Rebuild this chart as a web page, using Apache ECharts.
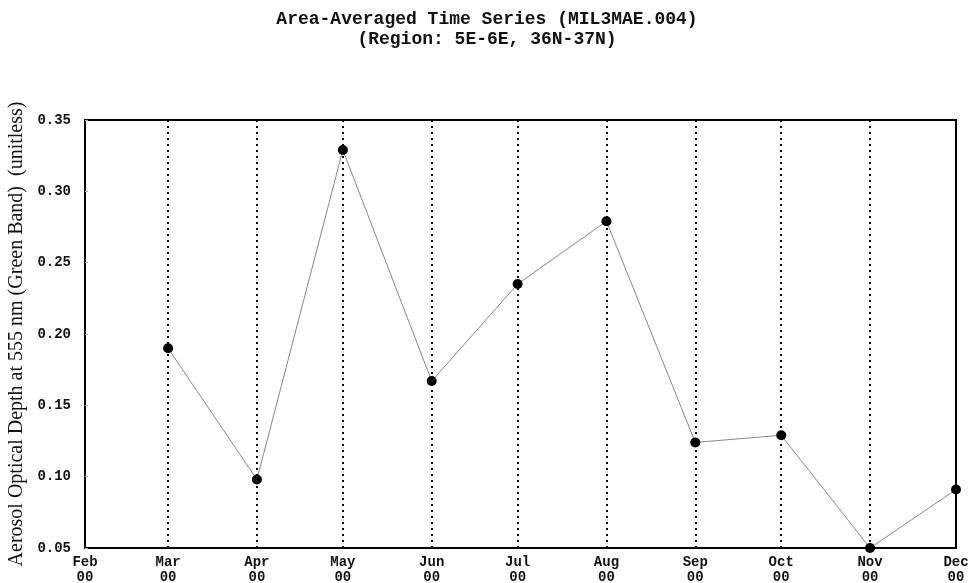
<!DOCTYPE html>
<html>
<head>
<meta charset="utf-8">
<script src="https://cdn.jsdelivr.net/npm/echarts@6/dist/echarts.min.js"></script>
<style>
  html, body { margin: 0; padding: 0; background: #fff; }
  #chart { width: 974px; height: 583px; }
</style>
</head>
<body>
<div id="chart"></div>
<script>
// Monthly area-averaged aerosol optical depth, MISR MIL3MAE.004, year 2000
const months = ['2000-03-01', '2000-04-01', '2000-05-01', '2000-06-01', '2000-07-01',
                '2000-08-01', '2000-09-01', '2000-10-01', '2000-11-01', '2000-12-01'];
const aod = [0.190, 0.098, 0.329, 0.167, 0.235, 0.279, 0.124, 0.129, 0.050, 0.091];
const monthNames = ['Jan', 'Feb', 'Mar', 'Apr', 'May', 'Jun', 'Jul', 'Aug', 'Sep', 'Oct', 'Nov', 'Dec'];
const monthLines = ['2000-03-01', '2000-04-01', '2000-05-01', '2000-06-01', '2000-07-01',
                    '2000-08-01', '2000-09-01', '2000-10-01', '2000-11-01'];

const slab = '"Liberation Mono", "DejaVu Serif", monospace';
const chart = echarts.init(document.getElementById('chart'));
const DAY = 24 * 3600 * 1000;

chart.setOption({
  animation: false,
  backgroundColor: '#fff',
  title: {
    text: 'Area-Averaged Time Series (MIL3MAE.004)\n(Region: 5E-6E, 36N-37N)',
    left: 'center',
    top: 4,
    textStyle: {
      fontFamily: slab, fontSize: 18, fontWeight: 'bold', color: '#111',
      lineHeight: 20, align: 'center'
    }
  },
  grid: {
    left: 85, right: 18, top: 120, bottom: 35,
    outerBoundsMode: 'none',
    containLabel: false,
    show: true, borderColor: '#000', borderWidth: 2, backgroundColor: '#fff'
  },
  xAxis: {
    type: 'time',
    min: '2000-02-01',
    max: '2000-12-01',
    minInterval: 28 * DAY,
    maxInterval: 31 * DAY,
    axisLine: { show: true, lineStyle: { color: '#000', width: 2 } },
    axisTick: { show: false },
    splitLine: { show: false },
    axisLabel: {
      showMinLabel: true,
      showMaxLabel: true,
      margin: 7,
      fontFamily: slab, fontSize: 14, fontWeight: 'bold', color: '#111', lineHeight: 15,
      formatter: function (v) {
        const d = new Date(v);
        return monthNames[d.getMonth()] + '\n' + String(d.getFullYear()).slice(2);
      }
    }
  },
  yAxis: {
    type: 'value',
    min: 0.05,
    max: 0.35,
    interval: 0.05,
    name: 'Aerosol Optical Depth at 555 nm (Green Band)  (unitless)',
    nameLocation: 'middle',
    nameGap: 58,
    nameTextStyle: { fontFamily: '"Liberation Serif", serif', fontSize: 20, color: '#111' },
    axisLine: { show: true, lineStyle: { color: '#000', width: 2 } },
    axisTick: { show: true, inside: true, length: 3, lineStyle: { color: '#aaa' } },
    splitLine: { show: false },
    axisLabel: {
      margin: 14,
      fontFamily: slab, fontSize: 14, fontWeight: 'bold', color: '#111',
      formatter: function (v) { return v.toFixed(2); }
    }
  },
  series: [{
    type: 'line',
    data: months.map((m, i) => [m, aod[i]]),
    symbol: 'circle',
    symbolSize: 10,
    clip: true,
    itemStyle: { color: '#000' },
    lineStyle: { color: '#888', width: 1 },
    markLine: {
      silent: true,
      symbol: 'none',
      label: { show: false },
      lineStyle: { color: '#000', width: 2, type: [2, 4] },
      data: monthLines.map(m => ({ xAxis: m }))
    },
    z: 3
  }]
});
</script>
</body>
</html>
